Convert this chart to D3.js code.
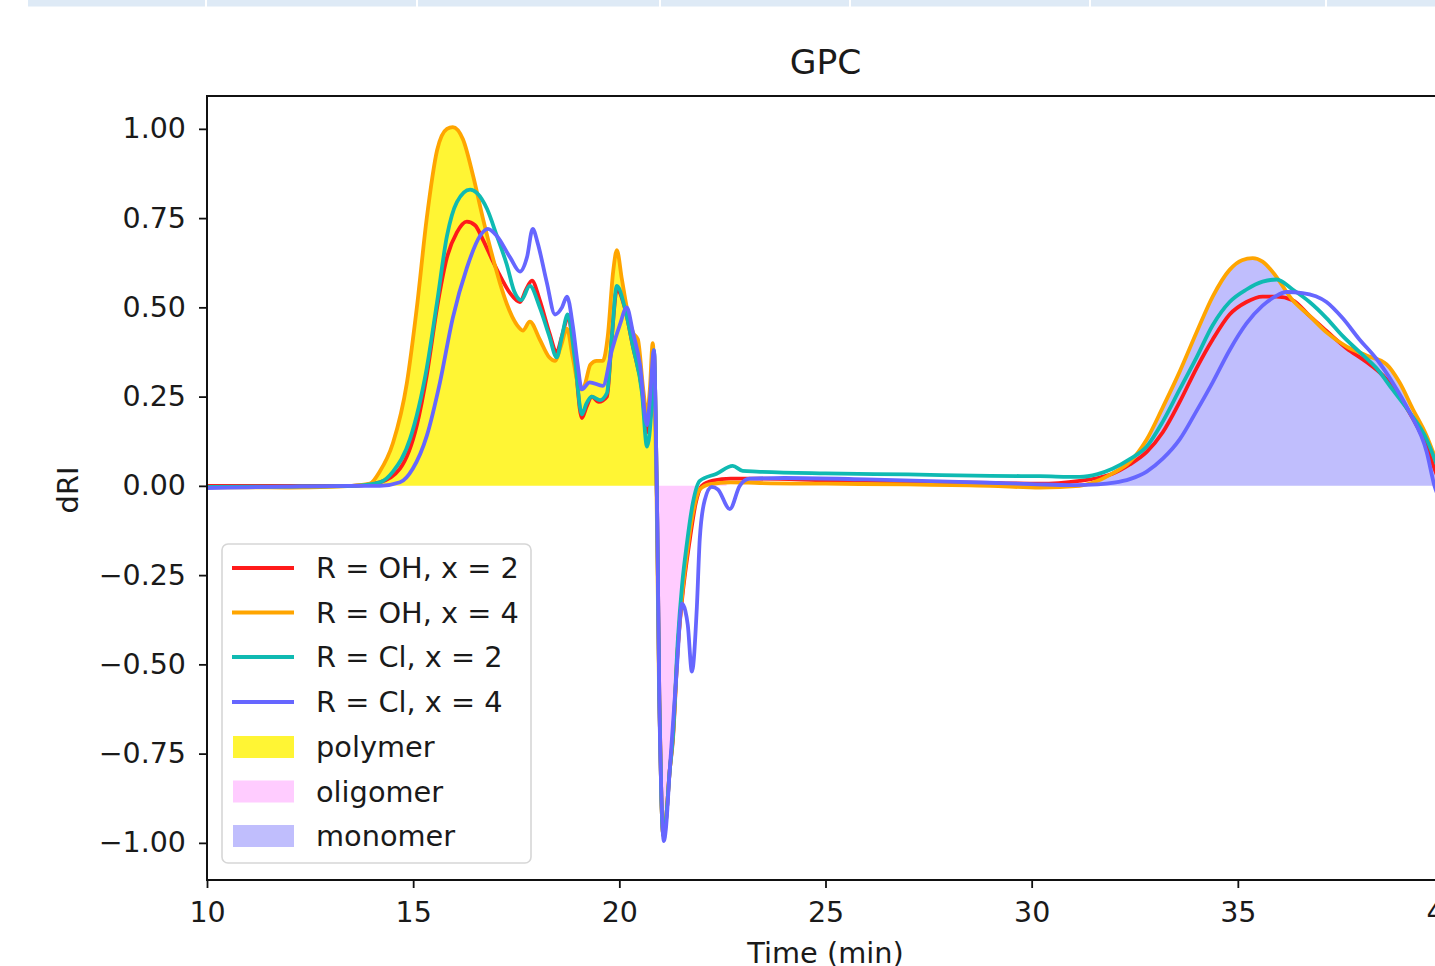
<!DOCTYPE html>
<html>
<head>
<meta charset="utf-8">
<script src="https://cdn.jsdelivr.net/npm/d3@7"></script>
<style>
  body { margin: 0; background: #fff; }
  text { font-family: "DejaVu Sans", sans-serif; }
</style>
</head>
<body>
<div id="chart"></div>
<script>
"use strict";

// time (min), dRI 
const ohX2 = [
  [10.0, 0.0], [12.0, 0.0], [13.5, 0.0], [14.19, 0.01], [14.68, 0.048], [15.09, 0.17], [15.33, 0.31],
  [15.58, 0.50], [15.82, 0.64], [16.06, 0.71], [16.30, 0.74], [16.50, 0.73], [16.69, 0.69], [16.93, 0.63],
  [17.10, 0.59], [17.35, 0.54], [17.59, 0.515], [17.74, 0.55], [17.88, 0.575], [18.07, 0.52], [18.30, 0.43],
  [18.48, 0.375], [18.61, 0.42], [18.75, 0.47], [18.92, 0.356], [19.09, 0.19], [19.20, 0.22], [19.33, 0.25],
  [19.50, 0.235], [19.70, 0.25], [19.82, 0.42], [19.94, 0.55], [20.13, 0.50], [20.33, 0.39], [20.55, 0.27],
  [20.67, 0.15], [20.79, 0.24], [20.84, 0.375], [20.88, 0.2], [20.92, -0.1], [20.97, -0.6], [21.02, -0.88],
  [21.07, -0.98], [21.12, -0.95], [21.22, -0.80], [21.30, -0.71], [21.42, -0.45], [21.52, -0.32], [21.71, -0.15],
  [21.85, -0.05], [22.0, 0.0], [22.27, 0.015], [22.7, 0.02], [23.4, 0.02], [25.0, 0.016], [27.0, 0.012],
  [29.0, 0.008], [30.2, 0.006], [31.16, 0.014], [31.6, 0.022], [31.96, 0.034], [32.38, 0.06], [32.79, 0.095],
  [33.18, 0.15], [33.59, 0.235], [34.0, 0.33], [34.39, 0.41], [34.80, 0.48], [35.21, 0.515], [35.60, 0.53],
  [35.94, 0.53], [36.33, 0.52], [36.74, 0.476], [37.15, 0.434], [37.64, 0.385], [38.12, 0.347], [38.51, 0.31],
  [38.92, 0.25], [39.24, 0.19], [39.58, 0.11], [39.77, 0.048], [40.0, -0.02]
];

const ohX4 = [
  [10.0, -0.004], [11.0, -0.004], [12.0, -0.005], [13.0, -0.003], [13.5, 0.0], [13.95, 0.006], [14.19, 0.04],
  [14.51, 0.12], [14.85, 0.29], [15.09, 0.50], [15.33, 0.75], [15.58, 0.94], [15.82, 1.0], [15.96, 1.005],
  [16.21, 0.97], [16.45, 0.87], [16.69, 0.75], [16.93, 0.64], [17.10, 0.57], [17.27, 0.51], [17.52, 0.45],
  [17.66, 0.435], [17.83, 0.46], [18.07, 0.41], [18.30, 0.36], [18.44, 0.35], [18.58, 0.39], [18.73, 0.44],
  [18.87, 0.36], [19.05, 0.27], [19.15, 0.28], [19.30, 0.34], [19.45, 0.35], [19.60, 0.35], [19.72, 0.42],
  [19.85, 0.60], [19.94, 0.66], [20.06, 0.58], [20.18, 0.50], [20.33, 0.43], [20.45, 0.41], [20.58, 0.27],
  [20.67, 0.20], [20.74, 0.27], [20.81, 0.40], [20.85, 0.30], [20.90, 0.0], [20.96, -0.55], [21.02, -0.88],
  [21.07, -0.98], [21.12, -0.95], [21.22, -0.80], [21.30, -0.70], [21.42, -0.45], [21.52, -0.31], [21.64, -0.19],
  [21.78, -0.08], [21.95, -0.01], [22.2, 0.005], [22.7, 0.01], [23.4, 0.008], [25.0, 0.006], [27.0, 0.004],
  [29.0, 0.0], [30.2, -0.005], [31.16, 0.0], [31.6, 0.014], [31.96, 0.035], [32.38, 0.067], [32.79, 0.13],
  [33.18, 0.22], [33.59, 0.32], [34.0, 0.43], [34.39, 0.53], [34.80, 0.605], [35.10, 0.632], [35.36, 0.638],
  [35.60, 0.628], [35.84, 0.60], [36.33, 0.52], [36.74, 0.476], [37.15, 0.43], [37.64, 0.39], [38.12, 0.365],
  [38.61, 0.34], [38.92, 0.29], [39.24, 0.216], [39.58, 0.14], [39.77, 0.084], [40.0, 0.01]
];

const clX2 = [
  [10.0, -0.003], [12.0, -0.002], [13.5, 0.0], [14.19, 0.01], [14.51, 0.04], [14.92, 0.13], [15.33, 0.33],
  [15.58, 0.515], [15.82, 0.70], [16.06, 0.795], [16.38, 0.83], [16.55, 0.82], [16.79, 0.776], [17.03, 0.70],
  [17.27, 0.62], [17.45, 0.545], [17.62, 0.52], [17.83, 0.56], [18.07, 0.50], [18.30, 0.42], [18.48, 0.36],
  [18.61, 0.42], [18.75, 0.48], [18.92, 0.356], [19.09, 0.20], [19.20, 0.23], [19.33, 0.25], [19.53, 0.24],
  [19.70, 0.26], [19.82, 0.42], [19.94, 0.56], [20.13, 0.50], [20.33, 0.39], [20.55, 0.26], [20.67, 0.11],
  [20.79, 0.24], [20.84, 0.38], [20.88, 0.2], [20.92, -0.1], [20.97, -0.6], [21.02, -0.88], [21.07, -0.98],
  [21.12, -0.95], [21.22, -0.80], [21.30, -0.70], [21.42, -0.43], [21.52, -0.28], [21.64, -0.16], [21.78, -0.05],
  [21.95, 0.014], [22.36, 0.034], [22.75, 0.056], [22.99, 0.042], [23.33, 0.04], [25.0, 0.035], [27.0, 0.032],
  [29.0, 0.028], [30.2, 0.027], [31.16, 0.025], [31.6, 0.033], [31.96, 0.048], [32.38, 0.075], [32.79, 0.11],
  [33.18, 0.18], [33.59, 0.27], [34.0, 0.36], [34.39, 0.45], [34.80, 0.515], [35.21, 0.55], [35.60, 0.572],
  [35.94, 0.578], [36.33, 0.55], [36.74, 0.515], [37.15, 0.47], [37.54, 0.42], [37.95, 0.375], [38.36, 0.33],
  [38.75, 0.27], [39.16, 0.207], [39.58, 0.13], [39.77, 0.076], [40.0, 0.0]
];

const clX4 = [
  [10.0, -0.006], [11.0, -0.004], [12.0, -0.002], [13.5, 0.0], [14.19, 0.0], [14.68, 0.01], [14.99, 0.048],
  [15.33, 0.14], [15.65, 0.29], [15.96, 0.47], [16.30, 0.61], [16.62, 0.70], [16.81, 0.72], [17.03, 0.70],
  [17.35, 0.64], [17.59, 0.60], [17.76, 0.64], [17.90, 0.72], [18.02, 0.68], [18.24, 0.57], [18.44, 0.48],
  [18.61, 0.50], [18.73, 0.53], [18.87, 0.45], [18.99, 0.34], [19.09, 0.27], [19.28, 0.29], [19.60, 0.28],
  [19.82, 0.38], [20.01, 0.45], [20.18, 0.50], [20.33, 0.43], [20.50, 0.34], [20.67, 0.17], [20.74, 0.24],
  [20.84, 0.38], [20.88, 0.2], [20.92, -0.1], [20.97, -0.6], [21.03, -0.9], [21.08, -0.995], [21.13, -0.96],
  [21.22, -0.80], [21.39, -0.52], [21.52, -0.33], [21.60, -0.35], [21.66, -0.39], [21.76, -0.52], [21.88, -0.34],
  [21.95, -0.15], [22.07, -0.04], [22.24, -0.003], [22.39, -0.01], [22.68, -0.065], [22.92, 0.0], [23.16, 0.02],
  [24.0, 0.022], [26.0, 0.018], [28.0, 0.012], [30.0, 0.005], [31.0, 0.002], [31.6, 0.004], [32.0, 0.009],
  [32.38, 0.019], [32.79, 0.04], [33.18, 0.076], [33.59, 0.13], [34.0, 0.21], [34.39, 0.29], [34.80, 0.38],
  [35.21, 0.455], [35.60, 0.505], [35.90, 0.53], [36.18, 0.543], [36.57, 0.54], [37.15, 0.515], [37.54, 0.47],
  [37.95, 0.41], [38.36, 0.356], [38.75, 0.29], [39.16, 0.207], [39.58, 0.095], [39.77, 0.0], [40.0, -0.06]
];

const seriesNames = ["R = OH, x = 2", "R = OH, x = 4", "R = Cl, x = 2", "R = Cl, x = 4"];
const seriesColors = ["#ff1a1a", "#ffa500", "#0fbab2", "#6666ff"];

// shaded regions follow the R = OH, x = 4 trace
const regionNames = ["polymer", "oligomer", "monomer"];
const regionRanges = [[10, 20.88], [20.88, 22.6], [30.5, 40]];
const regionColors = ["#fff534", "#ffccff", "#c0befd"];

const xTicks = [10, 15, 20, 25, 30, 35, 40];
const yTicks = [-1, -0.75, -0.5, -0.25, 0, 0.25, 0.5, 0.75, 1];

const plot = {
    width: 1435,
    height: 966,
    left: 207,
    right: 1444,
    top: 96,
    bottom: 880
};

let svg = d3.select("#chart")
    .append("svg")
    .attr("width", plot.width)
    .attr("height", plot.height);

let xScale = d3.scaleLinear()
    .domain([10, 40])
    .range([plot.left, plot.right]);

let yScale = d3.scaleLinear()
    .domain([-1.104, 1.092])
    .range([plot.bottom, plot.top]);

drawPageStrip();
drawRegions();
drawLines();
drawAxes();
drawLegend();
drawLabels();

function drawPageStrip() {
    // light blue table row peeking in at the very top of the screenshot
    let cuts = [28, 205, 416, 659, 849, 1089, 1325, 1435];
    for (let i = 0; i < cuts.length - 1; i++) {
        svg.append("rect")
            .attr("x", cuts[i] + (i > 0 ? 2 : 0))
            .attr("y", 0)
            .attr("width", cuts[i + 1] - cuts[i] - (i > 0 ? 2 : 0))
            .attr("height", 6.5)
            .attr("fill", "#deeaf6");
    }
}

function drawRegions() {
    let area = d3.area()
        .x((d) => xScale(d[0]))
        .y0(yScale(0))
        .y1((d) => yScale(d[1]))
        .curve(d3.curveMonotoneX);

    regionRanges.forEach((r, i) => {
        let id = "clip-" + regionNames[i];
        svg.append("clipPath")
            .attr("id", id)
            .append("rect")
            .attr("x", xScale(r[0]))
            .attr("y", plot.top)
            .attr("width", xScale(r[1]) - xScale(r[0]))
            .attr("height", plot.bottom - plot.top);
        svg.append("path")
            .datum(ohX4)
            .attr("clip-path", "url(#" + id + ")")
            .attr("fill", regionColors[i])
            .attr("d", area);
    });
}

function drawLines() {
    svg.append("clipPath")
        .attr("id", "clip-plot")
        .append("rect")
        .attr("x", plot.left)
        .attr("y", plot.top)
        .attr("width", plot.right - plot.left)
        .attr("height", plot.bottom - plot.top);

    let line = d3.line()
        .x((d) => xScale(d[0]))
        .y((d) => yScale(d[1]))
        .curve(d3.curveMonotoneX);

    let g = svg.append("g").attr("clip-path", "url(#clip-plot)");
    [ohX2, ohX4, clX2, clX4].forEach((s, i) => {
        g.append("path")
            .datum(s)
            .attr("fill", "none")
            .attr("stroke", seriesColors[i])
            .attr("stroke-width", 3.8)
            .attr("stroke-linejoin", "round")
            .attr("d", line);
    });
}

function drawAxes() {
    let xAxis = d3.axisBottom(xScale)
        .tickValues(xTicks)
        .tickFormat(d3.format("d"))
        .tickSize(8)
        .tickPadding(14);
    let gx = svg.append("g")
        .attr("transform", "translate(0," + plot.bottom + ")")
        .call(xAxis);

    let yAxis = d3.axisLeft(yScale)
        .tickValues(yTicks)
        .tickFormat(d3.format(".2f"))
        .tickSize(8)
        .tickPadding(13);
    let gy = svg.append("g")
        .attr("transform", "translate(" + plot.left + ",0)")
        .call(yAxis);

    [gx, gy].forEach((g) => {
        g.select(".domain").remove();
        g.selectAll(".tick line").attr("stroke", "#111").attr("stroke-width", 1.8);
        g.selectAll(".tick text")
            .attr("fill", "#1a1a1a")
            .style("font-family", "'DejaVu Sans', sans-serif")
            .style("font-size", "28.5px");
    });

    svg.append("rect")
        .attr("x", plot.left)
        .attr("y", plot.top)
        .attr("width", plot.right - plot.left)
        .attr("height", plot.bottom - plot.top)
        .attr("fill", "none")
        .attr("stroke", "#111")
        .attr("stroke-width", 2);
}

function drawLegend() {
    let lg = svg.append("g");
    lg.append("rect")
        .attr("x", 222)
        .attr("y", 544)
        .attr("width", 309)
        .attr("height", 319)
        .attr("rx", 6)
        .attr("fill", "#fff")
        .attr("fill-opacity", 0.8)
        .attr("stroke", "#d6d6d6")
        .attr("stroke-width", 1.6);

    let rowY = [568, 612.5, 657, 702, 747, 791.5, 836];

    seriesNames.forEach((name, i) => {
        lg.append("line")
            .attr("x1", 232).attr("x2", 294)
            .attr("y1", rowY[i]).attr("y2", rowY[i])
            .attr("stroke", seriesColors[i])
            .attr("stroke-width", 3.8);
        lg.append("text")
            .attr("x", 316).attr("y", rowY[i])
            .attr("dy", "0.36em")
            .attr("fill", "#1a1a1a")
            .style("font-size", "28.8px")
            .text(name);
    });

    regionNames.forEach((name, i) => {
        let yy = rowY[seriesNames.length + i];
        lg.append("rect")
            .attr("x", 233).attr("y", yy - 11)
            .attr("width", 61).attr("height", 22)
            .attr("fill", regionColors[i]);
        lg.append("text")
            .attr("x", 316).attr("y", yy)
            .attr("dy", "0.36em")
            .attr("fill", "#1a1a1a")
            .style("font-size", "28.8px")
            .text(name);
    });
}

function drawLabels() {
    let cx = (plot.left + plot.right) / 2;
    svg.append("text")
        .attr("x", cx)
        .attr("y", 74)
        .attr("text-anchor", "middle")
        .attr("fill", "#1a1a1a")
        .style("font-size", "34.5px")
        .text("GPC");

    svg.append("text")
        .attr("x", cx)
        .attr("y", 963)
        .attr("text-anchor", "middle")
        .attr("fill", "#1a1a1a")
        .style("font-size", "28.8px")
        .text("Time (min)");

    svg.append("text")
        .attr("transform", "translate(78," + 490 + ") rotate(-90)")
        .attr("text-anchor", "middle")
        .attr("fill", "#1a1a1a")
        .style("font-size", "28.8px")
        .text("dRI");
}
</script>
</body>
</html>
